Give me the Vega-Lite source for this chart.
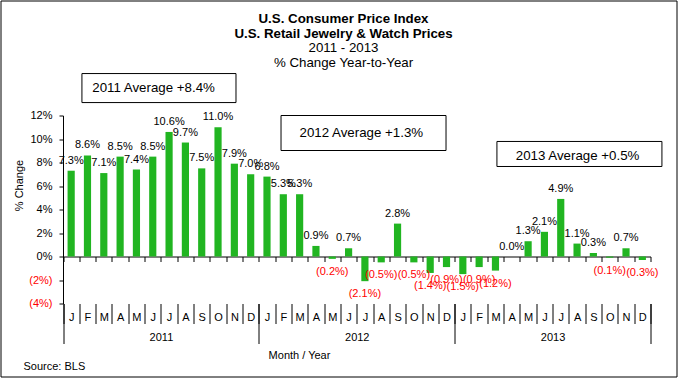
{
  "$schema": "https://vega.github.io/schema/vega-lite/v6.json",
  "width": 676,
  "height": 376,
  "autosize": {"type": "none"},
  "padding": {"left": 0.5, "top": 0.5, "right": 2.5, "bottom": 1.5},
  "background": "white",
  "config": {
    "view": {"stroke": "black", "strokeWidth": 1},
    "font": "Liberation Sans",
    "axis": {
      "labelFont": "Liberation Sans",
      "titleFont": "Liberation Sans",
      "labelColor": "black",
      "titleColor": "black",
      "tickColor": "black",
      "domainColor": "black",
      "grid": false,
      "titleFontWeight": "normal",
      "labelFontSize": 11,
      "titleFontSize": 11
    },
    "text": {"font": "Liberation Sans"}
  },
  "title": {
    "text": ["U.S. Consumer Price Index", "U.S. Retail Jewelry & Watch Prices"],
    "subtitle": ["2011 - 2013", "% Change Year-to-Year"],
    "anchor": "middle",
    "frame": "group",
    "offset": -69,
    "dx": 5,
    "font": "Liberation Sans",
    "fontSize": 13.3,
    "fontWeight": "bold",
    "color": "black",
    "lineHeight": 15.5,
    "subtitleFont": "Liberation Sans",
    "subtitleFontSize": 13.3,
    "subtitleColor": "black",
    "subtitleLineHeight": 15.5,
    "subtitlePadding": 0
  },
  "datasets": {
    "cpi": [
      {"month": "2011-01", "value": 7.3}, {"month": "2011-02", "value": 8.6}, {"month": "2011-03", "value": 7.1},
      {"month": "2011-04", "value": 8.5}, {"month": "2011-05", "value": 7.4}, {"month": "2011-06", "value": 8.5},
      {"month": "2011-07", "value": 10.6}, {"month": "2011-08", "value": 9.7}, {"month": "2011-09", "value": 7.5},
      {"month": "2011-10", "value": 11.0}, {"month": "2011-11", "value": 7.9}, {"month": "2011-12", "value": 7.0},
      {"month": "2012-01", "value": 6.8}, {"month": "2012-02", "value": 5.3}, {"month": "2012-03", "value": 5.3},
      {"month": "2012-04", "value": 0.9}, {"month": "2012-05", "value": -0.2}, {"month": "2012-06", "value": 0.7},
      {"month": "2012-07", "value": -2.1}, {"month": "2012-08", "value": -0.5}, {"month": "2012-09", "value": 2.8},
      {"month": "2012-10", "value": -0.5}, {"month": "2012-11", "value": -1.4}, {"month": "2012-12", "value": -0.9},
      {"month": "2013-01", "value": -1.5}, {"month": "2013-02", "value": -0.9}, {"month": "2013-03", "value": -1.2},
      {"month": "2013-04", "value": 0.0}, {"month": "2013-05", "value": 1.3}, {"month": "2013-06", "value": 2.1},
      {"month": "2013-07", "value": 4.9}, {"month": "2013-08", "value": 1.1}, {"month": "2013-09", "value": 0.3},
      {"month": "2013-10", "value": -0.1}, {"month": "2013-11", "value": 0.7}, {"month": "2013-12", "value": -0.3}
    ],
    "years": [{"year": "2011"}, {"year": "2012"}, {"year": "2013"}]
  },
  "layer": [
    {
      "data": {"name": "cpi"},
      "mark": {"type": "bar", "color": "#21B521", "width": {"band": 0.44}},
      "encoding": {
        "x": {
          "field": "month", "type": "ordinal",
          "scale": {"type": "band", "range": [62.5, 650], "padding": 0},
          "axis": {"orient": "bottom", "offset": -120, "labels": false, "title": null, "domain": true, "ticks": true, "tickBand": "extent", "tickSize": 5}
        },
        "y": {
          "field": "value", "type": "quantitative",
          "scale": {"domain": [-4, 12], "range": [303, 115], "nice": false, "zero": false},
          "axis": {
            "orient": "left", "offset": -62.5,
            "values": [-4, -2, 0, 2, 4, 6, 8, 10, 12],
            "labelExpr": "datum.value < 0 ? '(' + (-datum.value) + '%)' : datum.value + '%'",
            "labelColor": {"condition": {"test": "datum.value < 0", "value": "#FF0000"}, "value": "black"},
            "tickSize": 4, "labelPadding": 7,
            "title": "% Change", "titleX": -44, "titleY": 184.5, "titleAngle": -90,
            "titleAlign": "center", "titleBaseline": "middle", "domain": true
          }
        }
      }
    },
    {
      "data": {"name": "cpi"},
      "transform": [{"calculate": "datum.value < 0 ? '(' + format(-datum.value, '.1f') + '%)' : format(datum.value, '.1f') + '%'", "as": "label"}],
      "encoding": {
        "x": {
          "field": "month", "type": "ordinal",
          "scale": {"type": "band", "range": [62.5, 650], "padding": 0},
          "axis": {
            "orient": "bottom", "offset": -73, "domain": false, "ticks": true, "tickBand": "extent", "tickSize": 20,
            "labelExpr": "substring('JFMAMJJASOND', toNumber(substring(datum.value, 5, 7)) - 1, toNumber(substring(datum.value, 5, 7)))",
            "labelBaseline": "middle", "labelPadding": -6.5, "labelAngle": 0, "labelOverlap": false, "labelFlush": false,
            "title": "Source:  BLS", "titleX": 22.5, "titleY": 62.5, "titleAlign": "left", "titleBaseline": "middle", "titleAngle": 0
          }
        },
        "y": {"field": "value", "type": "quantitative"},
        "text": {"field": "label"}
      },
      "layer": [
        {"transform": [{"filter": "datum.value >= 0"}], "mark": {"type": "text", "baseline": "bottom", "dy": -5, "fontSize": 11, "color": "black"}},
        {"transform": [{"filter": "datum.value < 0"}], "mark": {"type": "text", "baseline": "top", "dy": 7, "fontSize": 11, "color": "#FF0000"}}
      ]
    },
    {
      "data": {"name": "years"},
      "mark": {"type": "point", "opacity": 0},
      "encoding": {
        "x": {
          "field": "year", "type": "ordinal",
          "scale": {"type": "band", "range": [62.5, 650], "padding": 0},
          "axis": {
            "orient": "bottom", "offset": -73, "domain": false, "ticks": true, "tickBand": "extent", "tickSize": 40,
            "labelBaseline": "middle", "labelPadding": -6.5, "labelAngle": 0,
            "title": "Month / Year", "titleX": 298.5, "titleY": 51.5, "titleAlign": "center", "titleBaseline": "middle"
          }
        }
      }
    },
    {
      "data": {"values": [{}]},
      "layer": [
        {
          "mark": {"type": "rect", "fill": "white", "stroke": "black", "strokeWidth": 1},
          "encoding": {
            "x": {"datum": 1.16, "type": "quantitative", "scale": {"domain": [0, 36], "range": [62.5, 650], "nice": false, "zero": false}, "axis": null},
            "x2": {"datum": 10.6},
            "y": {"datum": 15.57, "type": "quantitative"},
            "y2": {"datum": 13.1}
          }
        },
        {
          "mark": {"type": "text", "text": "2011 Average +8.4%", "fontSize": 13.3, "color": "black"},
          "encoding": {
            "x": {"datum": 5.55, "type": "quantitative", "scale": {"domain": [0, 36], "range": [62.5, 650], "nice": false, "zero": false}, "axis": null},
            "y": {"datum": 14.3, "type": "quantitative"}
          }
        },
        {
          "mark": {"type": "rect", "fill": "white", "stroke": "black", "strokeWidth": 1},
          "encoding": {
            "x": {"datum": 13.36, "type": "quantitative", "scale": {"domain": [0, 36], "range": [62.5, 650], "nice": false, "zero": false}, "axis": null},
            "x2": {"datum": 23.47},
            "y": {"datum": 12.0, "type": "quantitative"},
            "y2": {"datum": 9.02}
          }
        },
        {
          "mark": {"type": "text", "text": "2012 Average +1.3%", "fontSize": 13.3, "color": "black"},
          "encoding": {
            "x": {"datum": 18.28, "type": "quantitative", "scale": {"domain": [0, 36], "range": [62.5, 650], "nice": false, "zero": false}, "axis": null},
            "y": {"datum": 10.53, "type": "quantitative"}
          }
        },
        {
          "mark": {"type": "rect", "fill": "white", "stroke": "black", "strokeWidth": 1},
          "encoding": {
            "x": {"datum": 26.59, "type": "quantitative", "scale": {"domain": [0, 36], "range": [62.5, 650], "nice": false, "zero": false}, "axis": null},
            "x2": {"datum": 36.7},
            "y": {"datum": 9.79, "type": "quantitative"},
            "y2": {"datum": 7.66}
          }
        },
        {
          "mark": {"type": "text", "text": "2013 Average +0.5%", "fontSize": 13.3, "color": "black"},
          "encoding": {
            "x": {"datum": 31.53, "type": "quantitative", "scale": {"domain": [0, 36], "range": [62.5, 650], "nice": false, "zero": false}, "axis": null},
            "y": {"datum": 8.55, "type": "quantitative"}
          }
        }
      ]
    }
  ],
  "resolve": {"scale": {"x": "independent"}, "axis": {"x": "independent"}}
}
